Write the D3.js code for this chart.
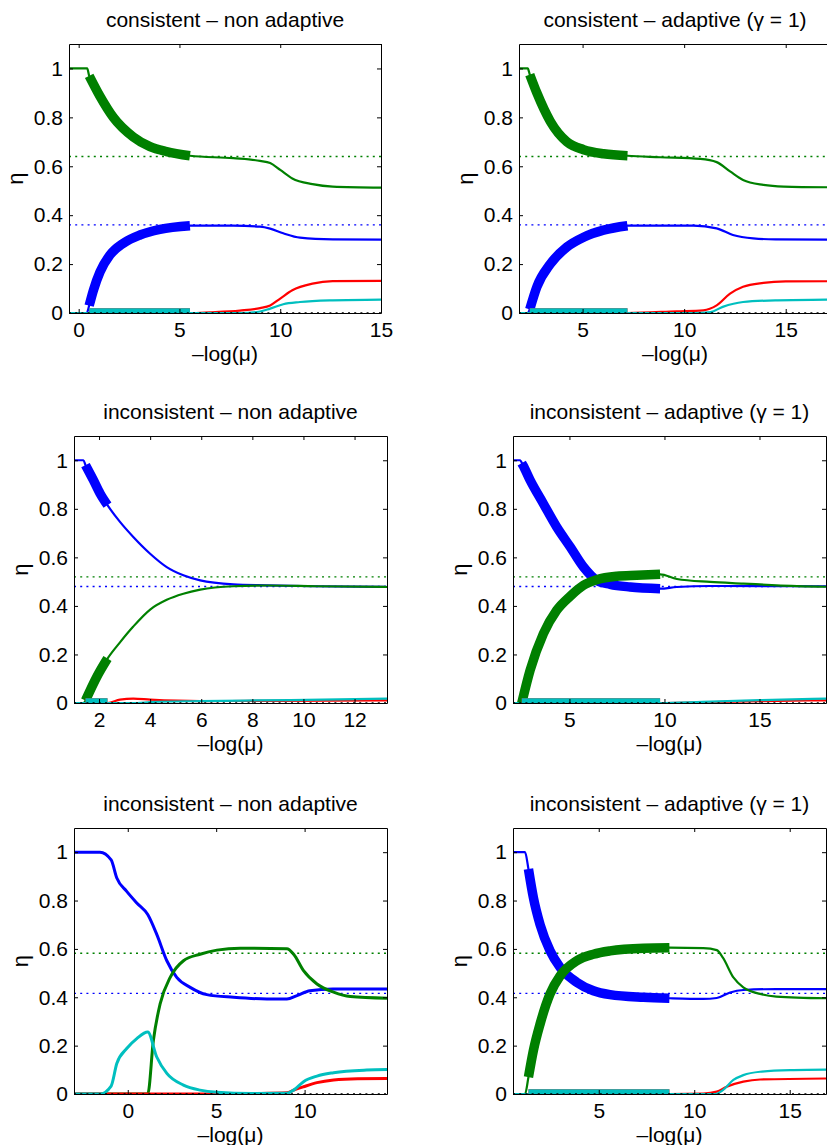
<!DOCTYPE html>
<html>
<head>
<meta charset="utf-8">
<script src="https://cdn.jsdelivr.net/npm/d3@7"></script>
<style>
  body { margin: 0; background: #fff; }
  svg { display: block; font-family: "Liberation Sans", Arial, sans-serif; }
</style>
</head>
<body>
<svg id="chart" width="827" height="1145"></svg>
<script>
// ---- text ----
var titles = [
  "consistent \u2013 non adaptive",
  "consistent \u2013 adaptive (\u03b3 = 1)",
  "inconsistent \u2013 non adaptive",
  "inconsistent \u2013 adaptive (\u03b3 = 1)",
  "inconsistent \u2013 non adaptive",
  "inconsistent \u2013 adaptive (\u03b3 = 1)"
];
var xLabel = "\u2013log(\u03bc)";
var yLabel = "\u03b7";

// ---- tick values ----
var yTicks = [0, 0.2, 0.4, 0.6, 0.8, 1];
var xTicks1 = [0, 5, 10, 15];
var xTicks2 = [5, 10, 15];
var xTicks3 = [2, 4, 6, 8, 10, 12];
var xTicks4 = [5, 10, 15];
var xTicks5 = [0, 5, 10];
var xTicks6 = [5, 10, 15];

// ---- panel 1: consistent, non adaptive ----
var p1Blue  = [[-0.48,0],[0.40,0],[0.52,0.03],[0.73,0.093],[1.06,0.168],[1.55,0.237],[2.21,0.285],[3.04,0.319],[4.03,0.342],[5.52,0.357],[7.67,0.357],[9.0,0.353],[9.5,0.345],[10.15,0.326],[10.98,0.308],[12.6,0.301],[15,0.30]];
var p1Green = [[-0.48,1],[0.42,1],[0.52,0.97],[1.06,0.886],[1.72,0.80],[2.71,0.72],[3.54,0.68],[4.36,0.66],[5.52,0.643],[7.67,0.633],[9.0,0.622],[9.5,0.613],[10.0,0.585],[10.6,0.55],[11.6,0.527],[12.6,0.517],[15,0.513]];
var p1Red   = [[-0.48,0],[5.52,0],[6.5,0.003],[8,0.01],[9,0.02],[9.5,0.031],[10,0.059],[10.6,0.093],[11.6,0.12],[12.6,0.13],[15,0.131]];
var p1Cyan  = [[-0.48,0],[8,0],[9,0.006],[9.5,0.018],[10.15,0.036],[10.98,0.045],[12.6,0.052],[15,0.055]];
var p1Ref   = [0.64, 0.36];
var p1Thick = [0.52, 5.52];

// ---- panel 2: consistent, adaptive ----
var p2Blue  = [[1.87,0],[2.3,0],[2.4,0.015],[2.75,0.107],[3.41,0.2],[4.23,0.27],[5.05,0.31],[6.03,0.339],[7.21,0.357],[10.46,0.357],[11.6,0.346],[12.4,0.319],[13.4,0.305],[14.5,0.301],[17.23,0.30]];
var p2Green = [[1.87,1],[2.3,1],[2.4,0.975],[2.75,0.90],[3.41,0.784],[4.23,0.70],[5.05,0.668],[6.03,0.651],[7.21,0.643],[8.82,0.637],[10.8,0.63],[11.6,0.617],[12.26,0.579],[12.9,0.544],[13.9,0.524],[14.9,0.517],[17.23,0.514]];
var p2Red   = [[1.87,0],[7.21,0],[9.64,0.007],[10.95,0.011],[11.6,0.031],[12.26,0.079],[12.9,0.107],[13.9,0.123],[15,0.129],[17.23,0.13]];
var p2Cyan  = [[1.87,0],[10.5,0],[11.3,0.004],[11.9,0.025],[12.9,0.045],[14.6,0.052],[17.23,0.055]];
var p2Ref   = [0.64, 0.36];
var p2Thick = [2.4, 7.21];

// ---- panel 3: inconsistent, non adaptive ----
var p3Blue  = [[1.02,1],[1.39,1],[1.47,0.98],[1.78,0.918],[2.04,0.863],[2.33,0.815],[2.82,0.746],[3.34,0.684],[4.0,0.615],[4.65,0.56],[5.3,0.526],[5.96,0.505],[7.26,0.489],[8.57,0.485],[10.5,0.481],[13.27,0.478]];
var p3Green = [[1.02,0],[1.40,0],[1.47,0.01],[1.91,0.107],[2.33,0.183],[2.82,0.25],[3.34,0.315],[4.0,0.385],[4.65,0.425],[5.3,0.45],[5.96,0.467],[7.26,0.481],[8.57,0.484],[10.5,0.481],[13.27,0.478]];
var p3Red   = [[1.02,0],[2.33,0],[2.82,0.014],[3.34,0.018],[4.0,0.014],[5.96,0.008],[9,0.009],[13.27,0.011]];
var p3Cyan  = [[1.02,0],[3.5,0],[4.0,0.004],[5.96,0.008],[9.5,0.012],[13.27,0.018]];
var p3Ref   = [0.52, 0.48];
var p3Thick = [1.47, 2.33];

// ---- panel 4: inconsistent, adaptive ----
var p4Blue  = [[2.03,1],[2.4,1],[2.55,0.98],[2.93,0.918],[3.63,0.821],[4.33,0.725],[5.04,0.643],[5.74,0.56],[6.44,0.505],[7.14,0.489],[8.19,0.478],[9.77,0.471],[10.65,0.478],[12.4,0.482],[18.5,0.481]];
var p4Green = [[2.03,0],[2.4,0],[2.49,0.0],[2.93,0.135],[3.63,0.286],[4.33,0.382],[5.04,0.44],[5.74,0.485],[6.44,0.508],[7.49,0.522],[8.54,0.526],[9.77,0.53],[10.65,0.511],[12.4,0.499],[14.16,0.492],[15.9,0.485],[18.5,0.479]];
var p4Red   = [[2.03,0],[9.77,0],[12,0.003],[15,0.008],[18.5,0.011]];
var p4Cyan  = [[2.03,0],[9.77,0],[12,0.005],[15,0.012],[18.5,0.018]];
var p4Ref   = [0.52, 0.48];
var p4Thick = [2.49, 9.77];

// ---- panel 5: inconsistent, non adaptive (second case) ----
var p5Blue  = [[-3.04,1],[-1.57,1],[-0.94,0.968],[-0.62,0.893],[-0.06,0.838],[0.51,0.79],[1.13,0.742],[1.64,0.66],[2.21,0.551],[2.77,0.482],[3.53,0.441],[4.47,0.411],[5.98,0.40],[7.87,0.393],[9.0,0.393],[9.57,0.407],[10.3,0.427],[11.6,0.434],[14.66,0.434]];
var p5Green = [[-3.04,0],[1.13,0],[1.45,0.222],[1.83,0.373],[2.4,0.482],[3.15,0.551],[4.09,0.578],[5.04,0.595],[6.36,0.603],[9.0,0.601],[9.38,0.578],[9.94,0.51],[10.7,0.455],[11.64,0.421],[12.58,0.403],[14.66,0.396]];
var p5Red   = [[-3.04,0],[5,0],[7,0.002],[9.0,0.005],[9.38,0.016],[9.94,0.03],[10.7,0.047],[11.64,0.058],[13,0.063],[14.66,0.064]];
var p5Cyan  = [[-3.04,0],[-1.57,0],[-0.94,0.033],[-0.62,0.126],[-0.06,0.188],[0.51,0.229],[1.13,0.256],[1.64,0.153],[2.21,0.085],[3.15,0.037],[4.09,0.016],[5.04,0.007],[7,0.002],[9.0,0.003],[9.38,0.016],[9.94,0.051],[10.7,0.074],[11.64,0.088],[13.5,0.099],[14.66,0.101]];
var p5Ref   = [0.582, 0.416];
var p5Thick = null;

// ---- panel 6: inconsistent, adaptive (second case) ----
var p6Blue  = [[0.51,1],[1.14,1],[1.32,0.93],[1.58,0.811],[1.93,0.70],[2.45,0.592],[2.98,0.523],[3.85,0.462],[4.72,0.427],[5.59,0.411],[7.34,0.40],[8.7,0.396],[10.48,0.393],[11.18,0.397],[11.88,0.42],[12.57,0.43],[14.3,0.434],[16.9,0.434]];
var p6Green = [[0.51,0],[1.14,0],[1.32,0.07],[1.58,0.181],[1.93,0.29],[2.45,0.414],[2.98,0.489],[3.85,0.551],[4.72,0.578],[5.59,0.592],[7.34,0.603],[8.7,0.605],[10.48,0.603],[11.18,0.595],[11.5,0.564],[12.05,0.482],[12.57,0.441],[13.45,0.414],[14.3,0.403],[16.9,0.396]];
var p6Red   = [[0.51,0],[8.7,0],[10.48,0.002],[11.18,0.01],[11.7,0.03],[12.57,0.051],[13.45,0.06],[16.9,0.064]];
var p6Cyan  = [[0.51,0],[11.1,0],[11.5,0.016],[12.05,0.058],[12.57,0.078],[13.45,0.092],[15.2,0.099],[16.9,0.101]];
var p6Ref   = [0.582, 0.416];
var p6Thick = [1.32, 8.7];

// series colours: blue, green, red, cyan (matlab defaults)
var colors = ["#0000ff", "#008000", "#ff0000", "#00bfbf"];

// layout: [left, top, right, bottom] of each axes box, and x extent
var panels = [
  { series: [p1Blue, p1Green, p1Red, p1Cyan], refs: p1Ref, thick: p1Thick, xTicks: xTicks1, xDomain: [-0.48, 15],   box: [69, 44, 381, 313],  lw: 2.2 },
  { series: [p2Blue, p2Green, p2Red, p2Cyan], refs: p2Ref, thick: p2Thick, xTicks: xTicks2, xDomain: [1.87, 17.23],  box: [519, 44, 831, 313], lw: 2.2 },
  { series: [p3Blue, p3Green, p3Red, p3Cyan], refs: p3Ref, thick: p3Thick, xTicks: xTicks3, xDomain: [1.02, 13.27],  box: [74, 436, 387, 703], lw: 2.2 },
  { series: [p4Blue, p4Green, p4Red, p4Cyan], refs: p4Ref, thick: p4Thick, xTicks: xTicks4, xDomain: [2.03, 18.5],   box: [513, 436, 826, 703], lw: 2.2 },
  { series: [p5Blue, p5Green, p5Red, p5Cyan], refs: p5Ref, thick: p5Thick, xTicks: xTicks5, xDomain: [-3.04, 14.66], box: [74, 828, 387, 1094], lw: 3 },
  { series: [p6Blue, p6Green, p6Red, p6Cyan], refs: p6Ref, thick: p6Thick, xTicks: xTicks6, xDomain: [0.51, 16.9],   box: [513, 828, 826, 1094], lw: 2.2 }
];

var svg = d3.select("#chart");
var defs = svg.append("defs");
var fmt = function(d) { return d === 0 || d === 1 ? String(d) : d3.format(".1f")(d); };

// cut a polyline to the x interval [a, b], interpolating the ends
function cutRange(s, a, b) {
  var out = [];
  for (var j = 0; j < s.length; j++) {
    var d = s[j];
    if (j > 0) {
      var q = s[j - 1];
      [a, b].forEach(function(c) {
        if (q[0] < c && d[0] > c) {
          var t = (c - q[0]) / (d[0] - q[0]);
          out.push([c, q[1] + t * (d[1] - q[1])]);
        }
      });
    }
    if (d[0] >= a - 1e-9 && d[0] <= b + 1e-9) out.push(d);
  }
  return out.filter(function(d) { return d[0] >= a - 1e-9 && d[0] <= b + 1e-9; });
}

panels.forEach(function(p, i) {
  var left = p.box[0], top = p.box[1], right = p.box[2], bottom = p.box[3];
  var x = d3.scaleLinear().domain(p.xDomain).range([left, right]);
  var y = d3.scaleLinear().domain([0, 1.1]).range([bottom, top]);

  defs.append("clipPath").attr("id", "clip" + i)
    .append("rect").attr("x", left).attr("y", top)
    .attr("width", right - left).attr("height", bottom - top);

  var g = svg.append("g");
  var plot = g.append("g").attr("clip-path", "url(#clip" + i + ")");

  var line = d3.line()
    .x(function(d) { return x(d[0]); })
    .y(function(d) { return y(d[1]); })
    .curve(d3.curveMonotoneX);

  // dotted reference levels (green, blue)
  p.refs.forEach(function(v, k) {
    plot.append("line")
      .attr("x1", left).attr("x2", right)
      .attr("y1", y(v)).attr("y2", y(v))
      .attr("stroke", colors[1 - k])
      .attr("stroke-width", 1.3)
      .attr("stroke-dasharray", "2,4.2");
  });

  // thin paths
  p.series.forEach(function(s, k) {
    plot.append("path")
      .attr("d", line(s))
      .attr("fill", "none")
      .attr("stroke", colors[k])
      .attr("stroke-width", p.lw)
      .attr("stroke-linejoin", "round");
  });

  // thick part of the path
  if (p.thick) {
    p.series.forEach(function(s, k) {
      var seg = cutRange(s, p.thick[0], p.thick[1]);
      if (seg.length < 2) return;
      plot.append("path")
        .attr("d", line(seg))
        .attr("fill", "none")
        .attr("stroke", colors[k])
        .attr("stroke-width", 9.5)
        .attr("stroke-linecap", "butt")
        .attr("stroke-linejoin", "round");
    });
  }

  // black dotted zero line
  plot.append("line")
    .attr("x1", left).attr("x2", right)
    .attr("y1", y(0)).attr("y2", y(0))
    .attr("stroke", "#000")
    .attr("stroke-width", 1.5)
    .attr("stroke-dasharray", "2,4.2");

  // axes (box with inward ticks)
  var ax = g.append("g");
  ax.append("g").attr("transform", "translate(0," + bottom + ")")
    .call(d3.axisBottom(x).tickValues(p.xTicks).tickSize(-4).tickSizeOuter(0).tickPadding(9));
  ax.append("g").attr("transform", "translate(0," + top + ")")
    .call(d3.axisTop(x).tickValues(p.xTicks).tickSize(-4).tickSizeOuter(0).tickFormat(""));
  ax.append("g").attr("transform", "translate(" + left + ",0)")
    .call(d3.axisLeft(y).tickValues(yTicks).tickSize(-4).tickSizeOuter(0).tickPadding(6).tickFormat(fmt));
  ax.append("g").attr("transform", "translate(" + right + ",0)")
    .call(d3.axisRight(y).tickValues(yTicks).tickSize(-4).tickSizeOuter(0).tickFormat(""));
  ax.selectAll("text")
    .attr("font-family", "Liberation Sans, Arial, sans-serif")
    .attr("font-size", 21)
    .attr("fill", "#000");
  ax.selectAll(".domain").attr("stroke", "#000").attr("stroke-width", 1);

  // title and axis labels
  g.append("text")
    .attr("x", (left + right) / 2).attr("y", top - 17)
    .attr("text-anchor", "middle").attr("font-size", 21)
    .text(titles[i]);
  g.append("text")
    .attr("x", (left + right) / 2).attr("y", bottom + 48)
    .attr("text-anchor", "middle").attr("font-size", 21)
    .text(xLabel);
  g.append("text")
    .attr("transform", "translate(" + (left - 46) + "," + ((top + bottom) / 2) + ") rotate(-90)")
    .attr("text-anchor", "middle").attr("font-size", 22)
    .text(yLabel);
});
</script>
</body>
</html>
